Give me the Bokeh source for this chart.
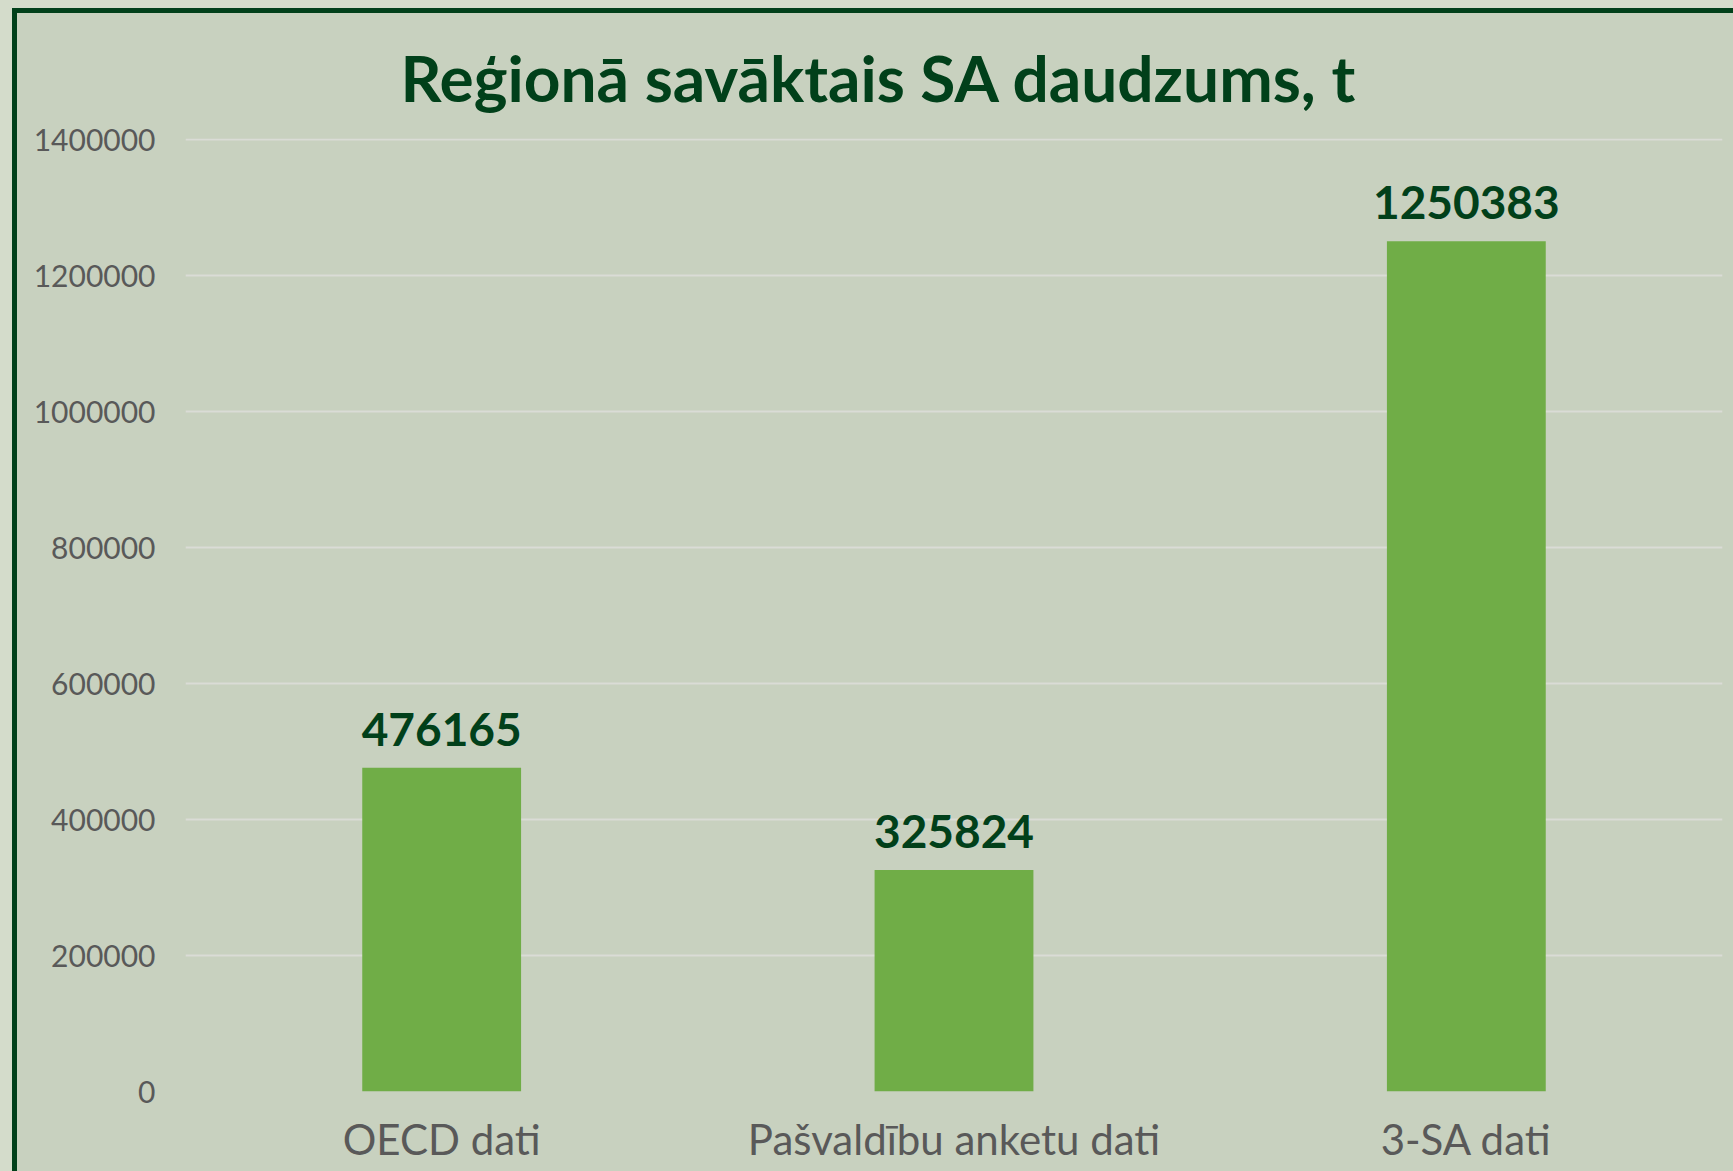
from bokeh.plotting import figure
from bokeh.models import ColumnDataSource, LabelSet, FactorRange, Range1d, SingleIntervalTicker
from bokeh.layouts import column
from bokeh.core.properties import value
from bokeh.embed import file_html
from bokeh.resources import INLINE

categories = ["OECD dati", "Pašvaldību anketu dati", "3-SA dati"]
values = [476165, 325824, 1250383]
labels = [str(v) for v in values]
title_text = "Reģionā savāktais SA daudzums, t"

INNER = "#c8d1bf"
OUTER = "#d4dccb"
DARK = "#01401a"
BAR = "#70ad47"
GRID = "#dadcd6"
TICK = "#595959"

src = ColumnDataSource(dict(cat=categories, val=values, lbl=labels))

p = figure(
    x_range=FactorRange(*categories, range_padding=0),
    y_range=Range1d(0, 1401500),
    width=1716, height=1158,
    output_backend="svg", toolbar_location=None,
    min_border_left=168, min_border_right=11, min_border_top=125, min_border_bottom=80,
    background_fill_color=INNER, border_fill_color=INNER,
)
p.outline_line_color = None

p.title.text = title_text
p.title.align = "left"
p.title.offset = 215
p.title.standoff = 46
p.title.text_font = "Lato"
p.title.text_font_style = "bold"
p.title.text_font_size = "64px"
p.title.text_color = DARK

p.vbar(x="cat", top="val", width=0.31, source=src, color=BAR, line_color=None)

p.add_layout(LabelSet(x="cat", y="val", text="lbl", source=src, y_offset=22,
                      text_align="center", text_baseline="alphabetic",
                      text_font=value("Lato"), text_font_style="bold",
                      text_font_size="46px", text_color=DARK))

# axes
p.yaxis.ticker = SingleIntervalTicker(interval=200000)
p.yaxis.formatter.use_scientific = False
p.yaxis.axis_line_color = None
p.yaxis.major_tick_line_color = None
p.yaxis.minor_tick_line_color = None
p.yaxis.major_label_text_font = "Lato"
p.yaxis.major_label_text_font_size = "30px"
p.yaxis.major_label_text_color = TICK
p.yaxis.major_label_standoff = 24

p.xaxis.axis_line_color = None
p.xaxis.major_tick_line_color = None
p.xaxis.major_label_text_font = "Lato"
p.xaxis.major_label_text_font_size = "42px"
p.xaxis.major_label_text_color = TICK
p.xaxis.major_label_standoff = 16

p.xgrid.grid_line_color = None
p.ygrid.grid_line_color = GRID
p.ygrid.grid_line_width = 2

inner = column(p, styles={"border-left": "5px solid " + DARK, "border-top": "5px solid " + DARK,
                          "background-color": INNER})
outer = column(inner, styles={"background-color": OUTER, "padding-left": "12px", "padding-top": "8px"})

open("out.html", "w").write(file_html(outer, INLINE))
